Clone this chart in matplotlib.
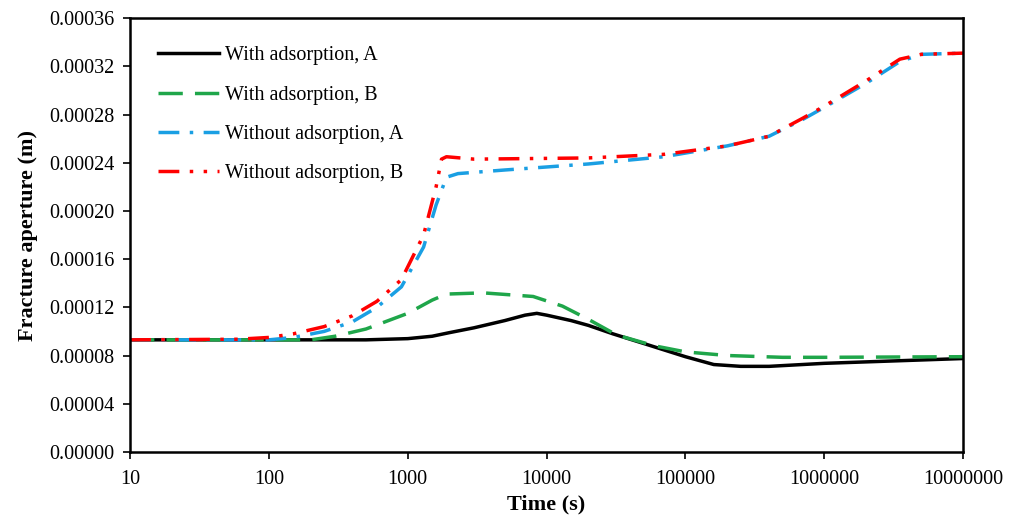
import numpy as np
import matplotlib as mpl
import matplotlib.pyplot as plt

mpl.rc('font', family='Liberation Serif', size=14.5)

# Time (s) and fracture aperture (x 1e-5 m)
t_wa_A = [10, 100, 500, 1000, 1500, 2000, 3000, 5000, 7000, 8500, 10000,
          15000, 20000, 30000, 50000, 100000, 160000, 250000, 400000, 1e6, 1e7]
w_wa_A = [9.3, 9.3, 9.3, 9.4, 9.6, 9.9, 10.3, 10.9, 11.35, 11.5, 11.35,
          10.9, 10.5, 9.8, 9.0, 7.9, 7.25, 7.1, 7.1, 7.35, 7.75]

t_wa_B = [10, 200, 300, 500, 1000, 1500, 1900, 3500, 8000, 13000,
          20000, 32000, 60000, 100000, 200000, 500000, 1e6, 1e7]
w_wa_B = [9.3, 9.3, 9.6, 10.2, 11.5, 12.6, 13.1, 13.2, 12.9, 12.1,
          11.0, 9.7, 8.8, 8.3, 8.0, 7.85, 7.85, 7.9]

t_woa_A = [10, 100, 150, 250, 400, 600, 900, 1300, 1600, 1900, 2300,
           5000, 20000, 70000, 200000, 400000, 700000, 1e6, 2e6, 3.5e6, 5e6, 1e7]
w_woa_A = [9.3, 9.3, 9.5, 10.0, 10.8, 12.0, 13.7, 17.0, 20.5, 22.8, 23.1,
           23.4, 23.9, 24.5, 25.4, 26.2, 27.6, 28.6, 30.6, 32.4, 33.0, 33.1]

t_woa_B = [10, 60, 100, 150, 250, 400, 600, 900, 1300, 1600, 1750, 1900,
           3000, 20000, 70000, 200000, 400000, 700000, 1e6, 2e6, 3.5e6, 5e6, 1e7]
w_woa_B = [9.3, 9.35, 9.5, 9.8, 10.4, 11.3, 12.5, 14.3, 18.0, 22.0, 24.3, 24.5,
           24.3, 24.4, 24.7, 25.4, 26.2, 27.7, 28.7, 30.8, 32.6, 33.0, 33.1]

fig = plt.figure(figsize=(10.16, 5.2), dpi=100)
ax = fig.add_axes([0.128, 0.131, 0.82, 0.834])

scale = 1e-5
ax.plot(t_wa_A, np.array(w_wa_A) * scale, color='black', lw=2.5,
        label='With adsorption, A')
ax.plot(t_wa_B, np.array(w_wa_B) * scale, color='#1fa64a', lw=2.5,
        dashes=(7, 3.5), label='With adsorption, B')
ax.plot(t_woa_A, np.array(w_woa_A) * scale, color='#1a9fe3', lw=2.5,
        dashes=(6, 3, 1, 3), label='Without adsorption, A')
ax.plot(t_woa_B, np.array(w_woa_B) * scale, color='#ff0000', lw=2.5,
        dashes=(6, 3, 1, 3, 1, 3), label='Without adsorption, B')

ax.set_xscale('log')
ax.set_xlim(10, 1e7)
ax.set_ylim(0, 0.00036)
ax.set_xticks([10, 100, 1000, 10000, 100000, 1000000, 10000000])
ax.set_xticklabels(['10', '100', '1000', '10000', '100000', '1000000', '10000000'])
ax.xaxis.set_minor_locator(mpl.ticker.NullLocator())
yt = np.arange(0, 0.00037, 0.00004)
ax.set_yticks(yt)
ax.set_yticklabels([f'{v:.5f}' for v in yt])
ax.tick_params(direction='out', length=5, width=1.2, labelsize=14.5, pad=6)
ax.tick_params(axis='x', pad=8)

for s in ax.spines.values():
    s.set_linewidth(1.8)

ax.set_xlabel('Time (s)', fontsize=16, fontweight='bold', labelpad=4)
ax.set_ylabel('Fracture aperture (m)', fontsize=16, fontweight='bold', labelpad=8)

ax.legend(loc='upper left', frameon=False, fontsize=14.5, handlelength=3.0,
          handletextpad=0.3, labelspacing=1.0, borderpad=0, borderaxespad=0,
          bbox_to_anchor=(0.034, 0.935))

fig.savefig('out.png', dpi=100)
